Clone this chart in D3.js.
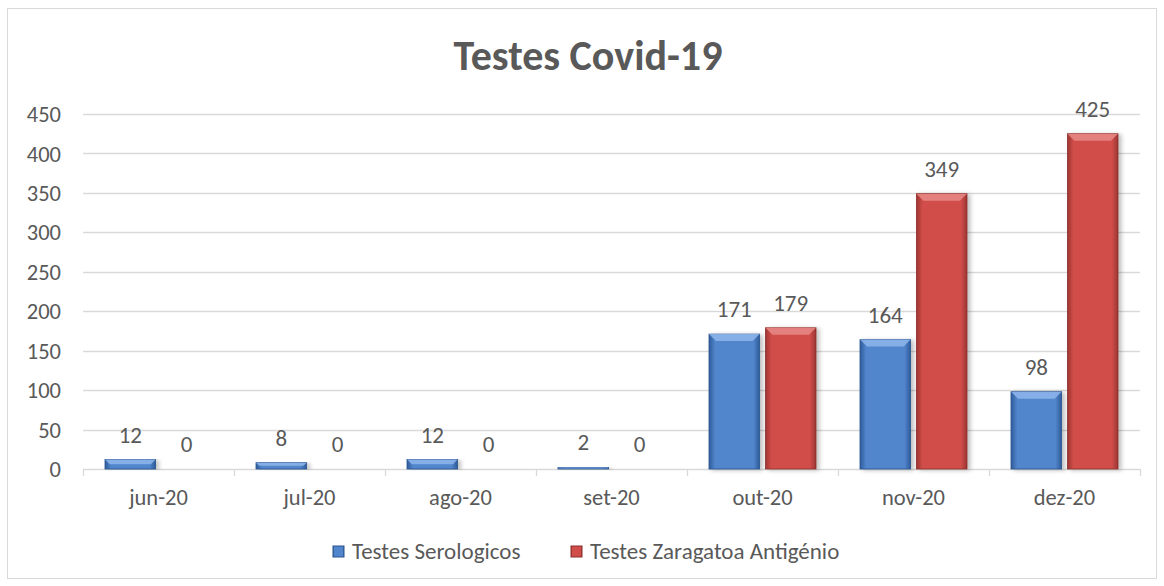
<!DOCTYPE html>
<html>
<head>
<meta charset="utf-8">
<script src="https://cdnjs.cloudflare.com/ajax/libs/d3/7.8.5/d3.min.js"></script>
<style>
  body { margin: 0; background: #fff; }
  svg text { font-family: Carlito, Calibri, Lato, "Open Sans", sans-serif; fill: #595959; }
</style>
</head>
<body>
<div class="chart"></div>
<script>
var months = ["jun-20", "jul-20", "ago-20", "set-20", "out-20", "nov-20", "dez-20"]
var serologicos = [12, 8, 12, 2, 171, 164, 98]
var zaragatoa = [0, 0, 0, 0, 179, 349, 425]
var seriesNames = ["Testes Serologicos", "Testes Zaragatoa Antigénio"]
var yTicks = [0, 50, 100, 150, 200, 250, 300, 350, 400, 450]

var W = 1164, H = 586
var plotLeft = 83, plotRight = 1140, plotTop = 114, plotBottom = 469

var svg = d3.select(".chart").append("svg")
    .attr("width", W)
    .attr("height", H)

var defs = svg.append("defs")
function grad(id, edge, mid) {
  var g = defs.append("linearGradient").attr("id", id)
      .attr("x1", "0%").attr("x2", "100%").attr("y1", "0%").attr("y2", "0%")
  g.append("stop").attr("offset", "0%").attr("stop-color", edge)
  g.append("stop").attr("offset", "12%").attr("stop-color", mid)
  g.append("stop").attr("offset", "88%").attr("stop-color", mid)
  g.append("stop").attr("offset", "100%").attr("stop-color", edge)
}
grad("gBlue", "#2f5b99", "#5185cc")
grad("gRed", "#9c3532", "#d04d49")
var f = defs.append("filter").attr("id", "shadow")
    .attr("x", "-20%").attr("y", "-5%").attr("width", "150%").attr("height", "115%")
f.append("feDropShadow").attr("dx", 3).attr("dy", 1).attr("stdDeviation", 2)
    .attr("flood-color", "#000").attr("flood-opacity", 0.25)

// outer frame
svg.append("rect")
    .attr("x", 7.5).attr("y", 8.5)
    .attr("width", 1149).attr("height", 570)
    .attr("fill", "#fff").attr("stroke", "#d9d9d9")

var x = d3.scaleBand().domain(months).range([plotLeft, plotRight])
var inner = d3.scaleBand().domain([0, 1]).range([22, 151 - 22]).paddingInner(11 / 107)
var y = d3.scaleLinear().domain([0, 450]).range([plotBottom, plotTop])

// gridlines
svg.append("g").selectAll("line")
    .data(yTicks.slice(1))
    .enter().append("line")
      .attr("x1", plotLeft).attr("x2", plotRight)
      .attr("y1", d => Math.round(y(d)) + 0.5)
      .attr("y2", d => Math.round(y(d)) + 0.5)
      .attr("stroke", "#d9d9d9").attr("stroke-width", 1.3)

// y labels
svg.append("g").selectAll("text")
    .data(yTicks)
    .enter().append("text")
      .attr("x", 61)
      .attr("y", d => y(d))
      .attr("dy", "0.36em")
      .attr("text-anchor", "end")
      .style("font-size", "22.5px")
      .text(d => d)

// x axis
var xAxis = svg.append("g")
xAxis.append("line")
    .attr("x1", plotLeft).attr("x2", plotRight)
    .attr("y1", plotBottom + 0.5).attr("y2", plotBottom + 0.5)
    .attr("stroke", "#d9d9d9").attr("stroke-width", 1.3)
xAxis.selectAll(".tick")
    .data(months.concat(["end"]))
    .enter().append("line")
      .attr("x1", (d, i) => Math.round(plotLeft + i * x.bandwidth()) + 0.5)
      .attr("x2", (d, i) => Math.round(plotLeft + i * x.bandwidth()) + 0.5)
      .attr("y1", plotBottom).attr("y2", plotBottom + 7)
      .attr("stroke", "#d9d9d9").attr("stroke-width", 1.3)
xAxis.selectAll("text")
    .data(months)
    .enter().append("text")
      .attr("x", d => x(d) + x.bandwidth() / 2)
      .attr("y", 505)
      .attr("text-anchor", "middle")
      .style("font-size", "22.5px")
      .text(d => d)

// bars
var series = [
  {vals: serologicos, fill: "url(#gBlue)", stroke: "#2a5590", bevel: "#8fb6ec"},
  {vals: zaragatoa, fill: "url(#gRed)", stroke: "#8a2f2c", bevel: "#e88a86"}
]
var bars = svg.append("g")
series.forEach(function(s, si) {
  var g = bars.append("g")
  var sel = g.selectAll("g")
      .data(s.vals.map((v, i) => ({v: v, m: months[i]})))
      .enter().append("g")
  sel.filter(d => d.v > 0).append("rect")
      .attr("x", d => x(d.m) + inner(si))
      .attr("y", d => y(d.v))
      .attr("width", inner.bandwidth())
      .attr("height", d => plotBottom - y(d.v))
      .attr("fill", s.fill)
      .attr("stroke", s.stroke)
      .attr("stroke-width", 0.8)
      .attr("filter", "url(#shadow)")
  // top bevel
  sel.filter(d => d.v > 0).append("path")
      .attr("d", function(d) {
        var x0 = x(d.m) + inner(si), x1 = x0 + inner.bandwidth()
        var y0 = y(d.v)
        var b = Math.min(7, (plotBottom - y0) / 2)
        return "M" + x0 + "," + y0 + "L" + x1 + "," + y0 +
               "L" + (x1 - b) + "," + (y0 + b) + "L" + (x0 + b) + "," + (y0 + b) + "Z"
      })
      .attr("fill", s.bevel)
      .attr("opacity", 0.85)
  // labels
  sel.append("text")
      .attr("x", d => x(d.m) + inner(si) + inner.bandwidth() / 2)
      .attr("y", d => y(d.v) - 17)
      .attr("text-anchor", "middle")
      .style("font-size", "23px")
      .text(d => d.v)
})

// title
svg.append("text")
    .attr("x", 588).attr("y", 70)
    .attr("text-anchor", "middle")
    .style("font-size", "42px")
    .style("font-weight", "bold")
    .text("Testes Covid-19")

// legend
var legendX = [333, 571]
var leg = svg.append("g").selectAll("g")
    .data(seriesNames)
    .enter().append("g")
      .attr("transform", (d, i) => "translate(" + legendX[i] + ",546)")
leg.append("rect")
    .attr("width", 11).attr("height", 11)
    .attr("fill", (d, i) => series[i].fill)
    .attr("stroke", (d, i) => series[i].stroke)
leg.append("text")
    .attr("x", 19).attr("y", 13)
    .style("font-size", "23px")
    .text(d => d)
</script>
</body>
</html>
